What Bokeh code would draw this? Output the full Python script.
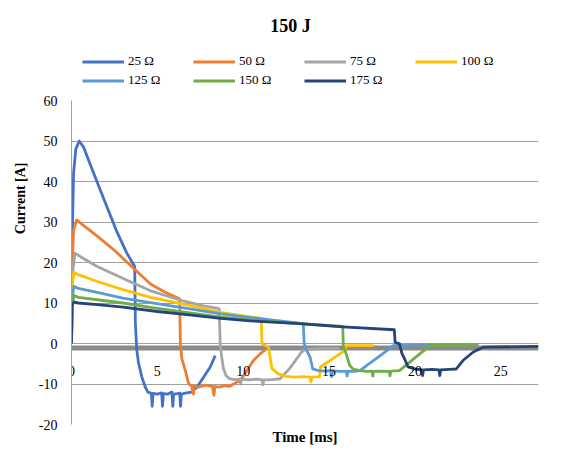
from bokeh.plotting import figure
from bokeh.layouts import column, row
from bokeh.models import (Range1d, FixedTicker, Span, Legend, LegendItem, Label, LinearAxis)
from bokeh.embed import file_html
from bokeh.resources import INLINE
import math

# ---------------- data ----------------
title_text = "150 J"
x_label = "Time [ms]"
y_label = "Current [A]"
x_ticks = [0, 5, 10, 15, 20, 25]
y_ticks = [-20, -10, 0, 10, 20, 30, 40, 50, 60]

series_names = ["25 Ω", "50 Ω", "75 Ω", "100 Ω", "125 Ω", "150 Ω", "175 Ω"]
series_colors = ["#4472C4", "#ED7D31", "#A5A5A5", "#FFC000", "#5B9BD5", "#70AD47", "#264478"]

s25_t = [0, 0.05, 0.12, 0.25, 0.45, 0.7, 1.2, 1.9, 2.6, 3.2, 3.68, 3.72, 3.8, 3.9, 4.1,
         4.3, 4.45, 4.65, 4.7, 4.75, 5.0, 5.25, 5.3, 5.35, 5.6, 5.85, 5.9, 5.95, 6.2, 6.3,
         6.35, 6.4, 6.7, 7.0, 7.3, 7.7, 8.08, 8.37]
s25_i = [0, 28, 42, 48, 50, 48.5, 43, 35.5, 28, 22.5, 19, 5, -1.5, -4.7, -8.3,
         -10.8, -12.0, -12.3, -15.5, -12.3, -12.5, -12.2, -15.5, -12.4, -12.5, -12.0, -15.5, -12.5, -12.4, -12.2,
         -15.5, -12.5, -12.2, -12.0, -10.8, -8.3, -5.8, -3.0]

s50_t = [0, 0.05, 0.12, 0.3, 0.6, 1.5, 2.5, 3.3, 4.6, 5.4, 6.2, 6.3, 6.34, 6.43, 6.63,
         6.82, 7.0, 7.1, 7.15, 7.4, 7.8, 8.2, 8.3, 8.35, 8.6, 8.9, 9.2, 9.44, 9.83, 10.2,
         10.6, 11.0, 11.3]
s50_i = [0, 20, 28, 30.5, 29.5, 26.5, 23, 19.8, 14.7, 12.8, 11.2, 11.0, 0, -3.8, -6.7,
         -9.9, -10.5, -12.5, -10.5, -10.8, -10.3, -10.6, -12.8, -10.6, -10.8, -10.4, -10.6, -10.0, -9.1, -6.8,
         -4.2, -2.5, -1.5]

s75_t = [0, 0.05, 0.2, 0.5, 1.5, 3.2, 4.6, 6.5, 7.7, 8.6, 8.66, 8.72, 8.85, 9.0, 9.2,
         9.5, 9.8, 9.85, 9.9, 10.3, 10.8, 11.1, 11.15, 11.2, 11.7, 12.15, 12.7, 13.4, 13.6, 14.5,
         15.6]
s75_i = [0, 17, 22.3, 21.5, 19, 15.7, 13.0, 10.5, 9.3, 8.6, 0, -2.5, -6.2, -7.9, -8.7,
         -8.9, -8.8, -10, -8.8, -9.0, -8.8, -9.0, -10.2, -9.0, -8.9, -8.7, -6.2, -2.1, -1.5, -1.2,
         -1.2]

s100_t = [0, 0.04, 0.14, 0.4, 1.5, 3.0, 4.6, 7.0, 8.66, 10.4, 11.05, 11.1, 11.47, 11.57, 11.67,
          12.05, 12.5, 13.0, 13.5, 13.9, 13.95, 14.0, 14.45, 14.5, 15.2, 15.93, 16.0, 17.6]
s100_i = [0, 14, 17.6, 17.0, 15.3, 13.3, 11.4, 9.3, 7.7, 6.6, 6.2, 0, -0.9, -3.4, -6.2,
          -7.5, -8.1, -8.3, -8.2, -8.3, -9.5, -8.3, -8.2, -5.8, -3.8, -1.7, -0.5, -0.5]

s125_t = [0, 0.04, 0.14, 0.4, 1.5, 3.0, 4.6, 7.0, 8.7, 10.4, 13.5, 13.55, 13.7, 13.9, 14.05,
          14.4, 14.8, 15.1, 15.15, 15.2, 15.6, 16.0, 16.05, 16.1, 16.5, 16.8, 17.4, 18.1, 18.74, 20.0,
          23.7]
s125_i = [0, 11, 14.1, 13.6, 12.6, 11.2, 10.1, 8.5, 7.3, 6.4, 4.9, 0, -1.7, -3.4, -6.3,
          -6.7, -6.8, -6.7, -8.2, -6.7, -6.9, -6.8, -8.0, -6.8, -6.9, -6.7, -4.8, -2.6, -0.5, -0.3,
          -0.3]

s150_t = [0, 0.04, 0.14, 0.4, 1.5, 3.0, 4.6, 7.0, 8.7, 10.4, 13.0, 15.8, 15.83, 16.03, 16.2,
          16.4, 16.8, 17.2, 17.5, 17.55, 17.6, 18.0, 18.5, 18.55, 18.6, 19.1, 19.7, 20.3, 20.9, 23.7]
s150_i = [0, 9, 11.85, 11.4, 10.8, 10.0, 8.9, 7.5, 6.5, 5.8, 5.0, 4.2, -0.5, -3.0, -5.4,
          -6.3, -6.7, -6.9, -6.8, -8.0, -6.9, -6.8, -6.9, -8.0, -6.8, -6.7, -4.6, -2.5, -0.5, -0.3]

s175_t = [0, 0.03, 0.14, 0.4, 1.5, 3.0, 5.0, 7.0, 8.7, 10.4, 13.3, 15.8, 18.8, 18.85, 19.1,
          19.25, 19.4, 19.6, 20.0, 20.4, 20.45, 20.5, 21.0, 21.4, 21.45, 21.5, 22.0, 22.4, 22.8, 23.4,
          23.97, 27.2]
s175_i = [0, 9.5, 10.2, 10.0, 9.6, 9.0, 7.9, 7.0, 6.2, 5.6, 4.9, 4.1, 3.4, 0.3, -0.1,
          -2.5, -3.8, -5.8, -6.3, -6.5, -7.9, -6.5, -6.4, -6.5, -7.9, -6.5, -6.4, -6.3, -4.2, -2.1,
          -0.9, -0.7]

series_t = [s25_t, s50_t, s75_t, s100_t, s125_t, s150_t, s175_t]
series_i = [s25_i, s50_i, s75_i, s100_i, s125_i, s150_i, s175_i]

X_MIN, X_MAX = 0, 27.2
Y_MIN, Y_MAX = -20, 60

SERIF = "Liberation Serif"
LINE_W = 2.8

HEAD_H = 92
BODY_H = 371
STRIP_W = 28


def blank(width, height):
    f = figure(width=width, height=height, x_range=Range1d(0, width), y_range=Range1d(0, height),
               min_border=0, x_axis_location=None, y_axis_location=None,
               output_backend="svg", toolbar_location=None, tools="")
    f.grid.visible = False
    f.outline_line_color = None
    return f


# ---------------- header: title + legend ----------------
head = blank(575, HEAD_H)
# one-point lines: they draw nothing themselves, they only carry the legend keys
key_renderers = [head.line(x=t[:1], y=i[:1], line_color=c, line_width=LINE_W)
                 for t, i, c in zip(series_t, series_i, series_colors)]
legend = Legend(items=[LegendItem(label=n, renderers=[r]) for n, r in zip(series_names, key_renderers)],
                location=(82, 4), orientation="horizontal", ncols=4,
                glyph_width=42, glyph_height=15, label_height=15, label_width=62,
                label_standoff=4, spacing=3, padding=0, margin=0,
                label_text_font=SERIF, label_text_font_size="13px", label_text_color="black",
                border_line_color=None, background_fill_alpha=0)
head.add_layout(legend, "center")
head.add_layout(Label(x=290, y=HEAD_H - 25, text=title_text, text_align="center",
                      text_baseline="middle", text_font=SERIF, text_font_size="18px",
                      text_font_style="bold", text_color="black"))

# ---------------- left strip: y axis title ----------------
strip = blank(STRIP_W, BODY_H)
strip.add_layout(Label(x=20, y=BODY_H - (204 - HEAD_H), text=y_label, angle=math.pi / 2,
                       text_align="center", text_baseline="middle", text_font=SERIF,
                       text_font_size="14px", text_font_style="bold", text_color="black"))

# ---------------- main chart ----------------
p = figure(width=575 - STRIP_W, height=BODY_H, frame_width=467, frame_height=324,
           min_border_left=71 - STRIP_W, min_border_right=37, min_border_top=8, min_border_bottom=39,
           x_range=Range1d(X_MIN, X_MAX), y_range=Range1d(Y_MIN, Y_MAX),
           output_backend="svg", toolbar_location=None, tools="")
p.outline_line_color = None

p.xgrid.visible = False
p.ygrid.ticker = FixedTicker(ticks=y_ticks)
p.ygrid.grid_line_color = "#a0a0a0"
p.ygrid.grid_line_width = 1

p.yaxis.ticker = FixedTicker(ticks=y_ticks)
p.yaxis.major_label_overrides = {v: str(v) for v in y_ticks}
p.yaxis.axis_line_color = "#a0a0a0"
p.yaxis.major_tick_line_color = None
p.yaxis.minor_tick_line_color = None
p.yaxis.major_label_standoff = 8
p.yaxis.major_label_text_font = SERIF
p.yaxis.major_label_text_font_size = "14px"
p.yaxis.major_label_text_color = "black"

# bottom axis carries only the title
p.xaxis.ticker = FixedTicker(ticks=[])
p.xaxis.axis_line_color = None
p.xaxis.major_tick_line_color = None
p.xaxis.minor_tick_line_color = None
p.xaxis.axis_label = x_label
p.xaxis.axis_label_standoff = 4
p.xaxis.axis_label_text_font = SERIF
p.xaxis.axis_label_text_font_size = "15px"
p.xaxis.axis_label_text_font_style = "bold"
p.xaxis.axis_label_text_color = "black"

# tick axis pinned to the zero line, labels hanging below it
zero_axis = LinearAxis(ticker=FixedTicker(ticks=x_ticks), fixed_location=0,
                       axis_line_color=None, major_tick_line_color=None, minor_tick_line_color=None,
                       major_label_standoff=-38, major_label_text_font=SERIF,
                       major_label_text_font_size="14px", major_label_text_color="black")
p.add_layout(zero_axis, "above")

# thick horizontal axis band
p.add_layout(Span(location=-1.1, dimension="width", line_color="#8a8a8a",
                  line_width=5, level="underlay"))

for t, i, c in zip(series_t, series_i, series_colors):
    p.line(t, i, line_color=c, line_width=LINE_W, line_join="round")

layout = column(head, row(strip, p, spacing=0), spacing=0)
open("out.html", "w").write(file_html(layout, INLINE))
